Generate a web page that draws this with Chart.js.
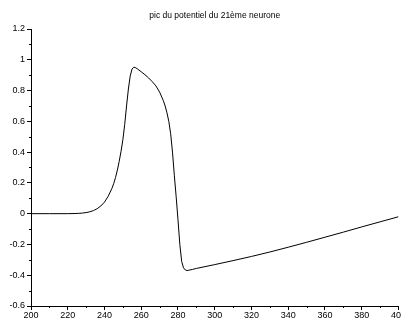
<!DOCTYPE html>
<html lang="fr">
<head>
  <meta charset="UTF-8">
  <title>pic du potentiel</title>
  <style>
    html, body {
      margin: 0;
      padding: 0;
      background: #fff;
      overflow: hidden;
    }
    .wrap {
      width: 406px;
      height: 322px;
    }
  </style>
  <script src="https://cdn.jsdelivr.net/npm/chart.js"></script>
</head>
<body>
  <div class="wrap"><canvas id="potChart" width="406" height="322"></canvas></div>

  <script>
    const chartTitle = 'pic du potentiel du 21ème neurone';

    // time (x) and membrane potential (y)
    const times = [200, 210, 220, 224, 226, 228, 230, 232, 234, 236, 238, 240, 242, 244, 245, 246,
      247, 248, 249, 250, 251, 252, 253, 254, 255, 256, 257, 258, 260, 262, 264, 266, 268, 270,
      272, 273, 274, 275, 276, 277, 278, 279, 280, 281, 282, 283, 284, 285, 286, 288, 290, 300,
      310, 320, 330, 340, 350, 360, 370, 380, 390, 400];
    const potential = [0, 0, 0, 0.001, 0.002, 0.004, 0.007, 0.012, 0.02, 0.032, 0.05, 0.075, 0.113,
      0.163, 0.195, 0.235, 0.283, 0.34, 0.405, 0.48, 0.58, 0.70, 0.81, 0.895, 0.94, 0.952, 0.948,
      0.94, 0.922, 0.903, 0.882, 0.858, 0.83, 0.79, 0.735, 0.70, 0.655, 0.60, 0.52, 0.40, 0.25,
      0.11, -0.04, -0.20, -0.31, -0.352, -0.366, -0.37, -0.367, -0.362, -0.356, -0.331, -0.305,
      -0.278, -0.249, -0.218, -0.186, -0.153, -0.12, -0.086, -0.053, -0.02];

    const xTicks = [200, 220, 240, 260, 280, 300, 320, 340, 360, 380, 400];
    const yTicks = [-0.6, -0.4, -0.2, 0, 0.2, 0.4, 0.6, 0.8, 1, 1.2];

    const points = times.map((t, i) => ({ x: t, y: potential[i] }));

    // title centred over the plot + small minor ticks between the major ones
    const extras = {
      id: 'extras',
      afterDraw(chart) {
        const c = chart.ctx;
        const area = chart.chartArea;
        const xs = chart.scales.x;
        const ys = chart.scales.y;
        c.save();
        c.fillStyle = '#000';
        c.font = '8.5px "Liberation Sans", Arial, sans-serif';
        c.textAlign = 'center';
        c.textBaseline = 'middle';
        c.fillText(chartTitle, (area.left + area.right) / 2, 16);

        c.strokeStyle = '#000';
        c.lineWidth = 1;
        c.beginPath();
        for (let i = 0; i < xTicks.length - 1; i++) {
          const px = Math.round(xs.getPixelForValue((xTicks[i] + xTicks[i + 1]) / 2)) + 0.5;
          c.moveTo(px, area.bottom);
          c.lineTo(px, area.bottom + 2);
        }
        for (let i = 0; i < yTicks.length - 1; i++) {
          const py = Math.round(ys.getPixelForValue((yTicks[i] + yTicks[i + 1]) / 2)) + 0.5;
          c.moveTo(area.left, py);
          c.lineTo(area.left - 2, py);
        }
        c.stroke();
        c.restore();
      }
    };

    const tickFont = { family: '"Liberation Sans", Arial, sans-serif', size: 9 };

    new Chart(document.getElementById('potChart'), {
      type: 'line',
      data: {
        datasets: [{
          data: points,
          borderColor: '#000',
          borderWidth: 1,
          pointRadius: 0,
          tension: 0,
          fill: false
        }]
      },
      options: {
        responsive: false,
        animation: false,
        layout: { padding: { top: 29, left: 0, right: 0, bottom: 0 } },
        plugins: {
          legend: { display: false },
          title: { display: false },
          tooltip: { enabled: false }
        },
        scales: {
          x: {
            type: 'linear',
            min: 200,
            max: 400,
            afterBuildTicks: (s) => { s.ticks = xTicks.map(v => ({ value: v })); },
            afterFit: (s) => { s.height = 16; },
            border: { display: true, color: '#000', width: 1 },
            grid: { drawOnChartArea: false, drawTicks: true, tickLength: 4, color: '#000' },
            ticks: { color: '#000', font: tickFont, padding: 0, maxRotation: 0, autoSkip: false }
          },
          y: {
            type: 'linear',
            min: -0.6,
            max: 1.2,
            afterBuildTicks: (s) => { s.ticks = yTicks.map(v => ({ value: v })); },
            afterFit: (s) => { s.width = 31; },
            border: { display: true, color: '#000', width: 1 },
            grid: { drawOnChartArea: false, drawTicks: true, tickLength: 4, color: '#000' },
            ticks: {
              color: '#000',
              font: tickFont,
              padding: 2,
              autoSkip: false,
              callback: (v) => String(Math.round(v * 10) / 10)
            }
          }
        }
      },
      plugins: [extras]
    });
  </script>
</body>
</html>
